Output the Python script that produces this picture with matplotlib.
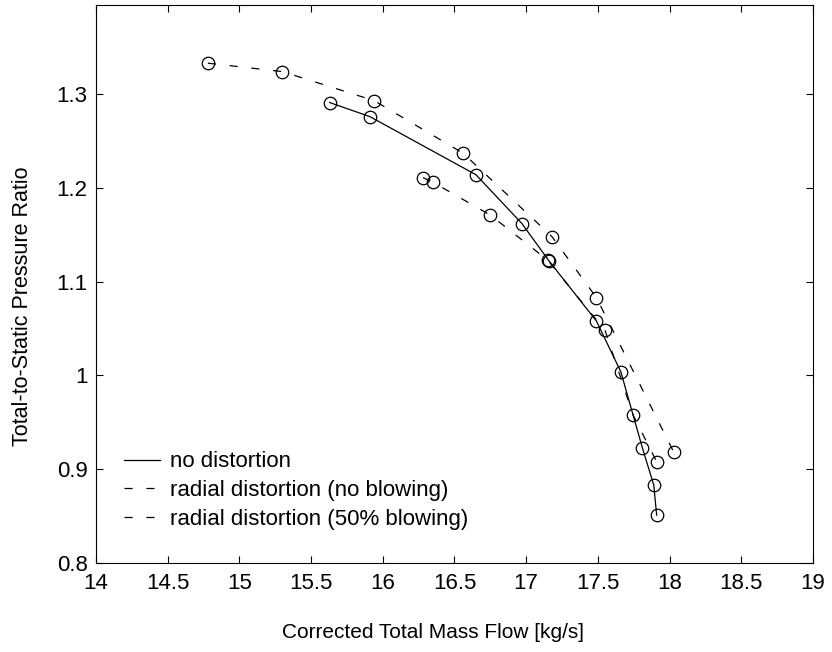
import matplotlib.pyplot as plt

plt.rcParams["font.family"] = ["Liberation Sans", "DejaVu Sans"]

# no distortion
flow_clean = [15.63, 15.91, 16.65, 16.97, 17.16, 17.49, 17.66, 17.81, 17.89, 17.91]
pr_clean = [1.291, 1.276, 1.214, 1.162, 1.122, 1.058, 1.004, 0.923, 0.883, 0.851]

# radial distortion, no blowing
flow_noblow = [14.78, 15.30, 15.94, 16.56, 17.18, 17.49, 18.03]
pr_noblow = [1.333, 1.324, 1.293, 1.237, 1.148, 1.083, 0.918]

# radial distortion, 50% blowing
flow_blow = [16.28, 16.35, 16.75, 17.15, 17.55, 17.745, 17.91]
pr_blow = [1.211, 1.206, 1.171, 1.123, 1.048, 0.958, 0.908]

fig = plt.figure(figsize=(8.32, 6.52), dpi=100)
ax = fig.add_axes([0.1154, 0.1365, 0.8617, 0.8558])

ax.plot(flow_clean, pr_clean, "-", color="black", lw=0.9, label="no distortion")
ax.plot(flow_noblow, pr_noblow, color="black", lw=0.9, dashes=(6.5, 11),
        label="radial distortion (no blowing)")
ax.plot(flow_blow, pr_blow, color="black", lw=0.9, dashes=(6.5, 11),
        label="radial distortion (50% blowing)")
for x, y in [(flow_clean, pr_clean), (flow_noblow, pr_noblow), (flow_blow, pr_blow)]:
    ax.plot(x, y, "o", ls="none", mfc="none", mec="black", ms=9, mew=0.9)

ax.set_xlim(14, 19)
ax.set_ylim(0.8, 1.395)
ax.set_xticks([14, 14.5, 15, 15.5, 16, 16.5, 17, 17.5, 18, 18.5, 19])
ax.set_xticklabels(["14", "14.5", "15", "15.5", "16", "16.5", "17", "17.5", "18", "18.5", "19"])
ax.set_yticks([0.8, 0.9, 1.0, 1.1, 1.2, 1.3])
ax.set_yticklabels(["0.8", "0.9", "1", "1.1", "1.2", "1.3"])
ax.tick_params(direction="in", length=5, width=0.8, top=True, right=True, labelsize=16)
ax.tick_params(axis="x", pad=7.5)
ax.tick_params(axis="y", pad=6)
for s in ax.spines.values():
    s.set_linewidth(0.8)

ax.set_xlabel("Corrected Total Mass Flow [kg/s]", fontsize=15)
ax.xaxis.set_label_coords(0.47, -0.107)
ax.set_ylabel("Total-to-Static Pressure Ratio", fontsize=15.5)
ax.yaxis.set_label_coords(-0.088, 0.46)

leg = ax.legend(loc="upper left", bbox_to_anchor=(0.039, 0.2), frameon=False,
                fontsize=16, handlelength=1.6, handletextpad=0.45, labelspacing=0.34,
                borderpad=0, borderaxespad=0)

fig.savefig("out.png", dpi=100)
